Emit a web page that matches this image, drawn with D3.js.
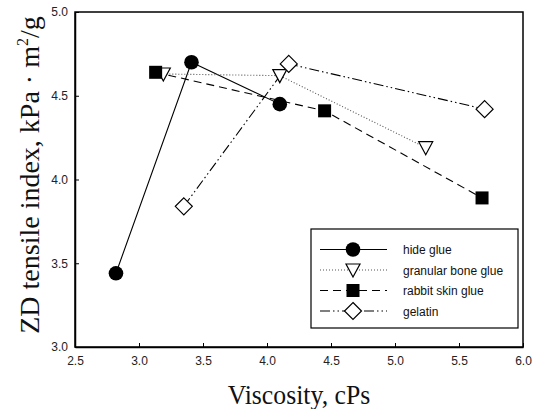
<!DOCTYPE html>
<meta charset="utf-8">
<style>
    body { margin: 0; background: #fff; }
    .tick text { font-family: Arial, "Liberation Sans", sans-serif; font-size: 12px; fill: #222; }
    .title { font-family: "Times New Roman", "Liberation Serif", serif; font-size: 28px; fill: #111; }
    .legend text { font-family: Arial, "Liberation Sans", sans-serif; font-size: 12px; fill: #111; }
</style>
<svg width="539" height="409"></svg>
<script src="https://cdn.jsdelivr.net/npm/d3@7"></script>
<script>

    // values
    var names = ["hide glue", "granular bone glue", "rabbit skin glue", "gelatin"];
    var hideGlue = [[2.82, 3.44], [3.41, 4.70], [4.10, 4.45]];
    var boneGlue = [[3.19, 4.63], [4.10, 4.62], [5.24, 4.19]];
    var rabbitGlue = [[3.13, 4.64], [4.45, 4.41], [5.68, 3.89]];
    var gelatin = [[3.35, 3.84], [4.17, 4.69], [5.70, 4.42]];
    var xTicks = [2.5, 3.0, 3.5, 4.0, 4.5, 5.0, 5.5, 6.0];
    var yTicks = [3.0, 3.5, 4.0, 4.5, 5.0];

    var series = [
        {name: names[0], data: hideGlue, dash: null, sym: "circle"},
        {name: names[1], data: boneGlue, dash: "1,2", sym: "triangle"},
        {name: names[2], data: rabbitGlue, dash: "8,5", sym: "square"},
        {name: names[3], data: gelatin, dash: "10,3,1.5,3,1.5,3", sym: "diamond"}
    ];

    var pLeft = 75, pRight = 523, pTop = 12, pBottom = 347;

    var svg = d3.select("svg");
    svg.append("rect").attr("width", "100%").attr("height", "100%").attr("fill", "#fff");

    var x = d3.scaleLinear().domain([2.5, 6.0]).range([pLeft, pRight]);
    var y = d3.scaleLinear().domain([3.0, 5.0]).range([pBottom, pTop]);

    // frame
    svg.append("rect")
            .attr("x", pLeft).attr("y", pTop)
            .attr("width", pRight - pLeft).attr("height", pBottom - pTop)
            .attr("fill", "none").attr("stroke", "#000").attr("stroke-width", 1.5);

    svg.append("g")
            .attr("transform", "translate(0," + pBottom + ")")
            .call(d3.axisBottom(x).tickValues(xTicks).tickFormat(d3.format(".1f"))
                    .tickSizeInner(-4).tickSizeOuter(0).tickPadding(9));
    svg.append("g")
            .attr("transform", "translate(" + pLeft + ",0)")
            .call(d3.axisLeft(y).tickValues(yTicks).tickFormat(d3.format(".1f"))
                    .tickSizeInner(-4).tickSizeOuter(0).tickPadding(7));
    svg.selectAll(".domain").attr("stroke", "#000").attr("stroke-width", 1.5);
    svg.selectAll(".tick line").attr("stroke", "#000");

    // titles (the original looks squeezed sideways a little)
    svg.append("text").attr("class", "title")
            .attr("transform", "translate(299,404) scale(0.92,1)")
            .attr("text-anchor", "middle")
            .text("Viscosity, cPs");

    var yt = svg.append("text").attr("class", "title")
            .attr("transform", "translate(39,175) rotate(-90)")
            .attr("font-size", 27.5)
            .attr("text-anchor", "middle");
    yt.append("tspan").text("ZD tensile index, kPa \u00b7 m");
    yt.append("tspan").attr("dy", -11).attr("font-size", 16).text("2");
    yt.append("tspan").attr("dy", 11).text("/g");

    var line = d3.line()
            .x(function (d) { return x(d[0]); })
            .y(function (d) { return y(d[1]); });

    function symbol(g, sym) {
        if (sym === "circle") {
            g.append("circle").attr("r", 7.3).attr("fill", "#000");
        } else if (sym === "square") {
            g.append("rect").attr("x", -6.5).attr("y", -6.5).attr("width", 13).attr("height", 13).attr("fill", "#000");
        } else if (sym === "triangle") {
            g.append("path").attr("d", "M-7,-6L7,-6L0,7Z").attr("fill", "#fff").attr("stroke", "#000").attr("stroke-width", 1.2);
        } else {
            g.append("path").attr("d", "M0,-8.5L8.5,0L0,8.5L-8.5,0Z").attr("fill", "#fff").attr("stroke", "#000").attr("stroke-width", 1.2);
        }
    }

    series.forEach(function (s) {
        svg.append("path").datum(s.data)
                .attr("d", line)
                .attr("fill", "none")
                .attr("stroke", s.dash === "1,2" ? "#555" : "#000")
                .attr("stroke-width", 1.1)
                .attr("stroke-dasharray", s.dash);
    });
    series.forEach(function (s) {
        s.data.forEach(function (d) {
            var g = svg.append("g").attr("transform", "translate(" + x(d[0]) + "," + y(d[1]) + ")");
            symbol(g, s.sym);
        });
    });

    // legend
    var lg = svg.append("g").attr("class", "legend");
    lg.append("rect").attr("x", 311).attr("y", 229).attr("width", 207).attr("height", 99)
            .attr("fill", "#fff").attr("stroke", "#000").attr("stroke-width", 1.2);
    series.forEach(function (s, i) {
        var ry = 249.5 + i * 20.5;
        lg.append("line").attr("x1", 320).attr("x2", 387).attr("y1", ry).attr("y2", ry)
                .attr("stroke", s.dash === "1,2" ? "#555" : "#000")
                .attr("stroke-width", 1.1)
                .attr("stroke-dasharray", s.dash);
        var g = lg.append("g").attr("transform", "translate(353," + ry + ")");
        symbol(g, s.sym);
        lg.append("text").attr("x", 403).attr("y", ry + 4.5).text(s.name);
    });

</script>
